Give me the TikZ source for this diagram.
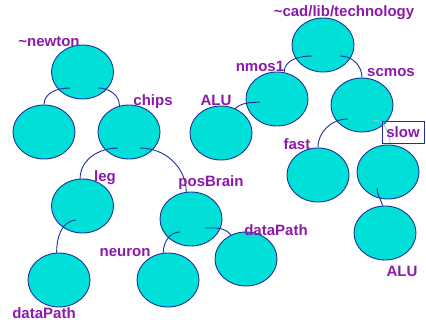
\documentclass[tikz,border=0pt]{standalone}
\usepackage{fontspec}
\setmainfont{Liberation Sans}
\usetikzlibrary{shapes.geometric}
\definecolor{blobfill}{RGB}{0,224,216}
\definecolor{blobline}{RGB}{28,48,150}
\definecolor{lbl}{RGB}{140,26,168}
\definecolor{faint}{RGB}{160,190,240}
\tikzset{
  blob/.style={ellipse, draw=blobline, fill=blobfill, line width=0.9pt,
    minimum width=62pt, minimum height=54pt, inner sep=0pt},
  tag/.style={text=lbl, font=\fontsize{15}{18}\selectfont\bfseries, inner sep=0pt},
  link/.style={draw=blobline, line width=0.9pt},
  fadelink/.style={draw=faint, line width=0.9pt},
  boxtag/.style={tag, draw=blobline, line width=0.8pt, minimum width=42pt,
    minimum height=22pt}
}
\begin{document}
\begin{tikzpicture}[x=1pt,y=-1pt]
\useasboundingbox (0,0) rectangle (426,323);

% ~newton tree
\node[blob] (newton) at (82.5,72) {};
\node[blob] (nleft) at (44,132) {};
\node[blob] (chips) at (129,132) {};
\node[blob] (leg) at (82.5,206) {};
\node[blob] (posbrain) at (191,219) {};
\node[blob] (dpleft) at (59,280) {};
\node[blob] (neuron) at (168,280) {};
\node[blob] (dpright) at (246,259) {};

% ~cad/lib/technology tree
\node[blob] (tech) at (323,45) {};
\node[blob] (nmos) at (277,99) {};
\node[blob] (alutop) at (221,133) {};
\node[blob] (scmos) at (362,105) {};
\node[blob] (fast) at (318,175) {};
\node[blob] (slow) at (388,172) {};
\node[blob] (alubot) at (385,233) {};

% connectors
\draw[link] ([shift={(-12.5,16)}]newton.center) to[out=180,in=90] (nleft.north);
\draw[link] ([shift={(15.5,16)}]newton.center) to[out=0,in=90] (chips.110);
\draw[link] ([shift={(-11,16)}]chips.center) to[out=180,in=90] (leg.95);
\draw[link] ([shift={(11,16)}]chips.center) to[out=0,in=90] (posbrain.100);
\draw[link] ([shift={(-6.5,14)}]leg.center) to[out=185,in=90] (dpleft.95);
\draw[link] ([shift={(-11,13)}]posbrain.center) to[out=180,in=90] (neuron.100);
\draw[link] ([shift={(14,9)}]posbrain.center) to[out=0,in=130] (dpright.122);
\draw[link] ([shift={(-11,11)}]tech.center) to[out=180,in=90] (nmos.75);
\draw[link] ([shift={(17,11)}]tech.center) to[out=0,in=90] (scmos.north);
\draw[link] ([shift={(-17,3)}]nmos.center) to[out=185,in=40] (alutop.60);
\draw[link] ([shift={(-14,14)}]scmos.center) to[out=180,in=90] (fast.north);
\draw[fadelink] ([shift={(11,15)}]scmos.center) to[out=0,in=95] (slow.85);
\draw[link] ([shift={(-11,16)}]slow.center) to[out=-90,in=105] (alubot.95);

% labels
\node[tag] (t1) at (49,42) {\char`\~newton};
\node[tag] (t2) at (153,102) {chips};
\node[tag] (t3) at (105,178) {leg};
\node[tag] (t4) at (211,183) {posBrain};
\node[tag] (t5) at (125,253) {neuron};
\node[tag] (t6) at (44,313) {dataPath};
\node[tag] (t7) at (276,230) {dataPath};
\node[tag] (t8) at (344,13) {\char`\~cad/lib/technology};
\node[tag] (t9) at (260,66) {nmos1};
\node[tag] (t10) at (216,100) {ALU};
\node[tag] (t11) at (391,73) {scmos};
\node[tag] (t12) at (297,144) {fast};
\node[boxtag] (t13) at (403,132) {slow};
\node[tag] (t14) at (402,271) {ALU};
\end{tikzpicture}
\end{document}
